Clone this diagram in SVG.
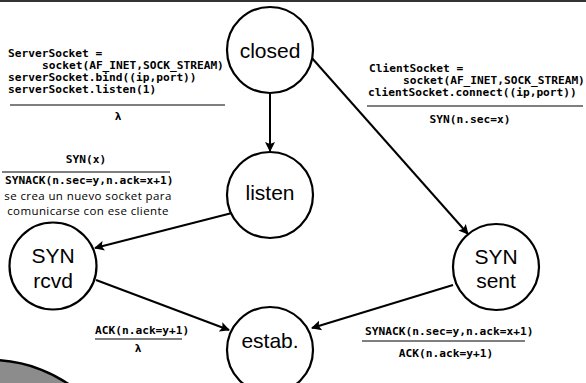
<svg xmlns="http://www.w3.org/2000/svg" width="586" height="383" viewBox="0 0 586 383">
<defs>
<marker id="ah" markerWidth="10" markerHeight="10" refX="9" refY="5" orient="auto" markerUnits="userSpaceOnUse">
<path d="M0,0 L10,5 L0,10 L2,5 Z" fill="#000"/>
</marker>
</defs>
<style>
.node circle{fill:#fff;stroke:#000;stroke-width:2.2}
.nl{font-family:"Liberation Sans","DejaVu Sans",sans-serif;font-size:21px;text-anchor:middle;fill:#000}
.code{font-family:"DejaVu Sans Mono",monospace;font-size:11.2px;font-weight:bold;fill:#000}
.mid{text-anchor:middle}
.note{font-family:"Open Sans","DejaVu Sans",sans-serif;font-size:11.5px;letter-spacing:0.4px;text-anchor:middle;fill:#000}
.edge{stroke:#000;stroke-width:2;fill:none;marker-end:url(#ah)}
.rule{stroke:#000;stroke-width:1.2}
</style>
<rect width="586" height="383" fill="#fff"/>
<rect x="0" y="0" width="586" height="2" fill="#333"/>
<circle cx="-10" cy="500" r="140" fill="#8c8c8c" stroke="#000" stroke-width="2.5"/>
<g id="connectors">
<line class="edge" x1="270" y1="93" x2="270" y2="151"/>
<line class="edge" x1="311" y1="57" x2="468" y2="234"/>
<line class="edge" x1="232" y1="213" x2="95" y2="248"/>
<line class="edge" x1="96" y1="280" x2="229" y2="330"/>
<line class="edge" x1="453" y1="285" x2="312" y2="328"/>
</g>
<g id="closed" class="node"><circle cx="270" cy="50" r="43"/><text class="nl" x="270" y="58">closed</text></g>
<g id="listen" class="node"><circle cx="270" cy="195" r="43"/><text class="nl" x="270" y="200">listen</text></g>
<g id="syn-rcvd" class="node"><circle cx="53" cy="266" r="43.5"/><text class="nl" x="53" y="263">SYN</text><text class="nl" x="53" y="288">rcvd</text></g>
<g id="syn-sent" class="node"><circle cx="496" cy="267" r="43"/><text class="nl" x="496" y="264">SYN</text><text class="nl" x="496" y="288">sent</text></g>
<g id="estab" class="node"><circle cx="270" cy="350" r="43"/><text class="nl" x="270" y="348">estab.</text></g>
<g id="label-server">
<text class="code" x="8" y="57">ServerSocket =</text>
<text class="code" x="42" y="69">socket(AF_INET,SOCK_STREAM)</text>
<text class="code" x="8" y="81">serverSocket.bind((ip,port))</text>
<text class="code" x="8" y="93">serverSocket.listen(1)</text>
<line class="rule" x1="10" y1="105" x2="225" y2="105"/>
<text class="code mid" x="118" y="120">λ</text>
</g>
<g id="label-client">
<text class="code" x="369" y="72">ClientSocket =</text>
<text class="code" x="403" y="84">socket(AF_INET,SOCK_STREAM)</text>
<text class="code" x="368" y="96">clientSocket.connect((ip,port))</text>
<line class="rule" x1="367" y1="106" x2="583" y2="106"/>
<text class="code mid" x="470" y="123">SYN(n.sec=x)</text>
</g>
<g id="label-listen">
<text class="code mid" x="86" y="163">SYN(x)</text>
<line class="rule" x1="2" y1="172" x2="170" y2="172"/>
<text class="code" x="5" y="184">SYNACK(n.sec=y,n.ack=x+1)</text>
<text class="note" x="88" y="200">se crea un nuevo socket para</text>
<text class="note" x="88" y="215">comunicarse con ese cliente</text>
</g>
<g id="label-rcvd">
<text class="code" x="95" y="334">ACK(n.ack=y+1)</text>
<line class="rule" x1="95" y1="339" x2="182" y2="339"/>
<text class="code mid" x="138" y="352">λ</text>
</g>
<g id="label-sent">
<text class="code" x="365" y="335">SYNACK(n.sec=y,n.ack=x+1)</text>
<line class="rule" x1="362" y1="341" x2="525" y2="341"/>
<text class="code mid" x="446" y="357">ACK(n.ack=y+1)</text>
</g>
</svg>
